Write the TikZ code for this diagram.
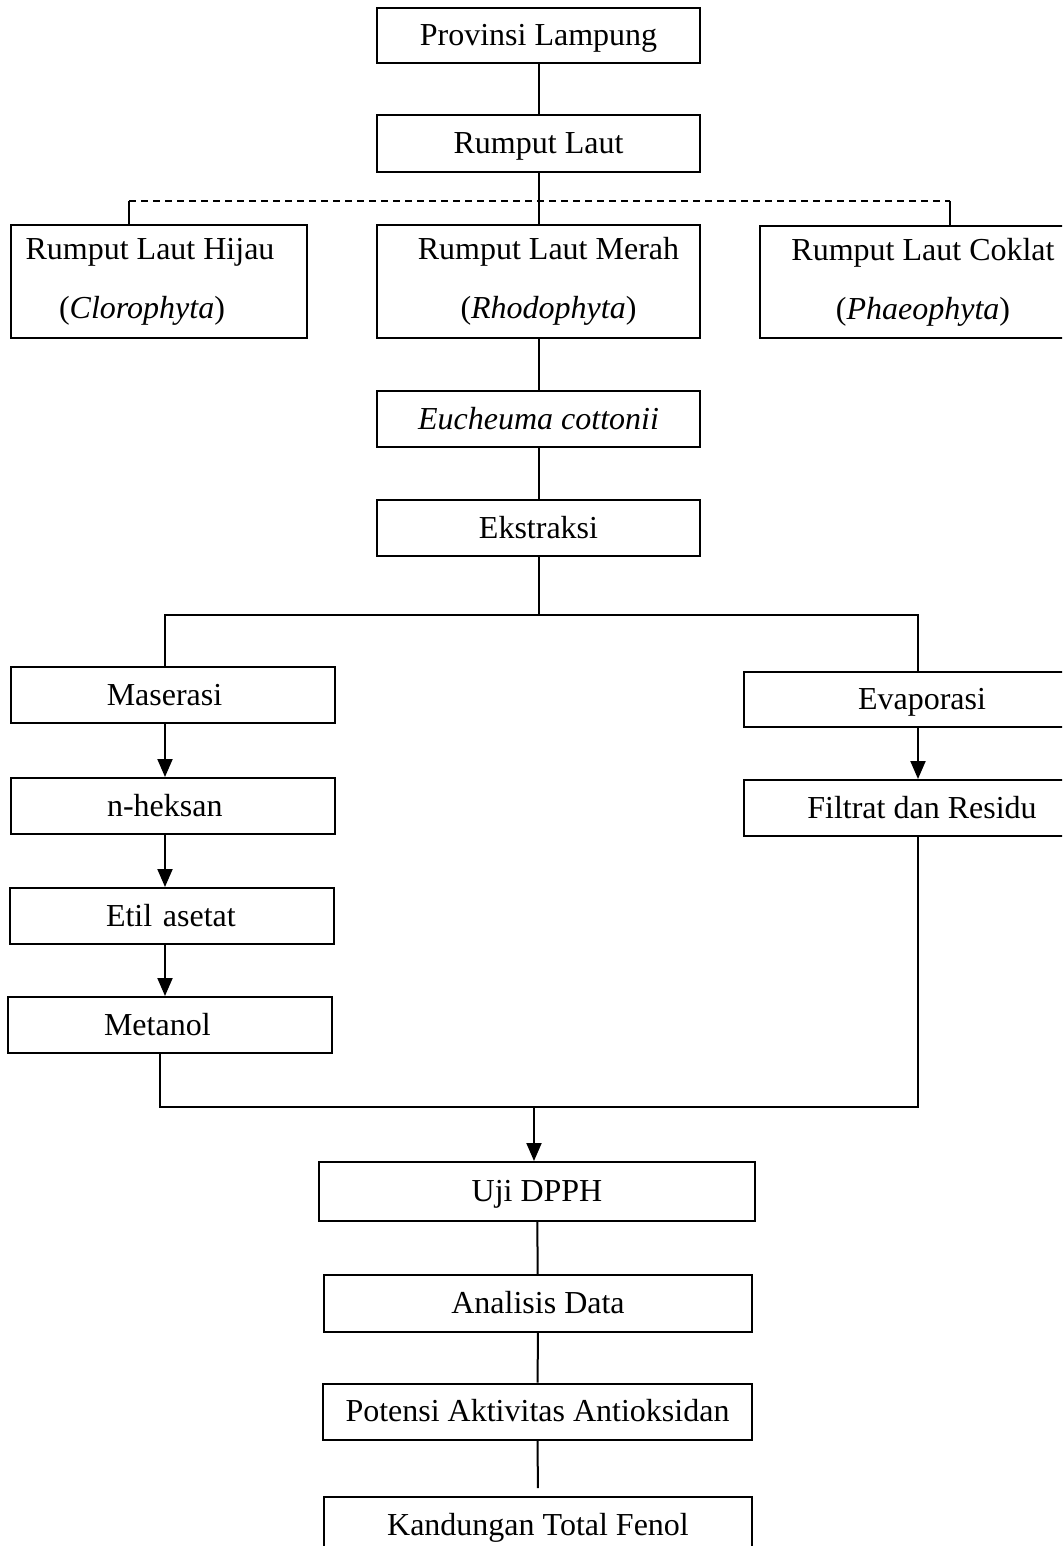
\documentclass[tikz,border=0pt]{standalone}
\usepackage{fontspec}
\setmainfont{Liberation Serif}
\usetikzlibrary{arrows.meta}
\begin{document}
\begin{tikzpicture}[x=0.5pt,y=-0.5pt,line width=1pt,
  box/.style={draw,line width=1pt,rectangle,inner sep=0pt,
    font=\fontsize{16pt}{29.5pt}\selectfont,text height=12.5pt,text depth=2.5pt,align=center},
  box2/.style={draw,line width=1pt,rectangle,inner sep=0pt,
    font=\fontsize{16pt}{29.5pt}\selectfont,align=center},
  lbox/.style={box,text width=66pt,inner xsep=48pt,align=left,minimum height=28pt},
  sz/.style 2 args={minimum width=#1,minimum height=#2},
  arr/.style={-{Triangle[length=9pt,width=7.5pt]}},
  dsh/.style={dash pattern=on 3.5pt off 2.5pt}]
\useasboundingbox (0,0) rectangle (1062,1546);
\clip (0,0) rectangle (1062,1546);

\node[box,sz={161.5pt}{27.5pt}] (prov) at (538.5,35.5) {Provinsi Lampung};
\node[box,sz={161.5pt}{28.5pt}] (rl) at (538.5,143.5) {Rumput Laut};
\node[box2,sz={148pt}{56.5pt}] (hijau) at (159,281.5) {Rumput Laut Hijau\hspace*{9pt}\\(\textit{Clorophyta})\hspace*{17pt}};
\node[box2,sz={161.5pt}{56.5pt}] (merah) at (538.5,281.5) {\hspace*{10pt}Rumput Laut Merah\\\hspace*{10pt}(\textit{Rhodophyta})};
\node[box2,sz={163pt}{56pt}] (coklat) at (923,282) {Rumput Laut Coklat\\(\textit{Phaeophyta})};
\node[box,sz={161.5pt}{28pt}] (euch) at (538.5,419) {\textit{Eucheuma cottonii}};
\node[box,sz={161.5pt}{28pt}] (eks) at (538.5,528) {Ekstraksi};
\node[lbox] (mas) at (172.75,695) {Maserasi};
\node[lbox] (nhek) at (173,806) {n-heksan};
\node[lbox] (etil) at (172,916) {Etil asetat};
\node[lbox] (met) at (170,1025) {Metanol};
\node[box,sz={178pt}{27.5pt}] (evap) at (922,699.5) {Evaporasi};
\node[box,sz={178pt}{28pt}] (filt) at (922,808) {Filtrat dan Residu};
\node[box,sz={218pt}{29.5pt}] (uji) at (537,1191.5) {Uji DPPH};
\node[box,sz={214pt}{28.5pt}] (anal) at (538,1303.5) {Analisis Data};
\node[box,sz={214.5pt}{28pt}] (pot) at (537.5,1411.5) {Potensi Aktivitas Antioksidan};
\node[box,sz={214pt}{28pt}] (kand) at (538,1525) {Kandungan Total Fenol};

\coordinate (dl) at (129,201);
\coordinate (dr) at (950,201);
\coordinate (sp) at (538.5,615);
\coordinate (sl) at (165,615);
\coordinate (sr) at (918,615);
\coordinate (ml) at (160,1107);
\coordinate (mr) at (918,1107);
\coordinate (mm) at (534,1107);

\draw (prov) -- (rl);
\draw (rl.south) -- (merah.north);
\draw[dsh] (dl) -- (dr);
\draw (dl) -- (dl |- hijau.north);
\draw (dr) -- (dr |- coklat.north);
\draw (merah) -- (euch);
\draw (euch) -- (eks);
\draw (eks.south) -- (sp);
\draw (sl |- mas.north) -- (sl) -- (sr) -- (sr |- evap.north);
\draw[arr] (mas.south -| sl) -- (nhek.north -| sl);
\draw[arr] (nhek.south -| sl) -- (etil.north -| sl);
\draw[arr] (etil.south -| sl) -- (met.north -| sl);
\draw[arr] (evap.south -| sr) -- (filt.north -| sr);
\draw (met.south -| ml) -- (ml) -- (mr) -- (filt.south -| mr);
\draw[arr] (mm) -- (mm |- uji.north);
\draw (uji) -- (anal);
\draw (anal) -- (pot);
\draw[shorten >=4pt] (pot) -- (kand);
\end{tikzpicture}
\end{document}
